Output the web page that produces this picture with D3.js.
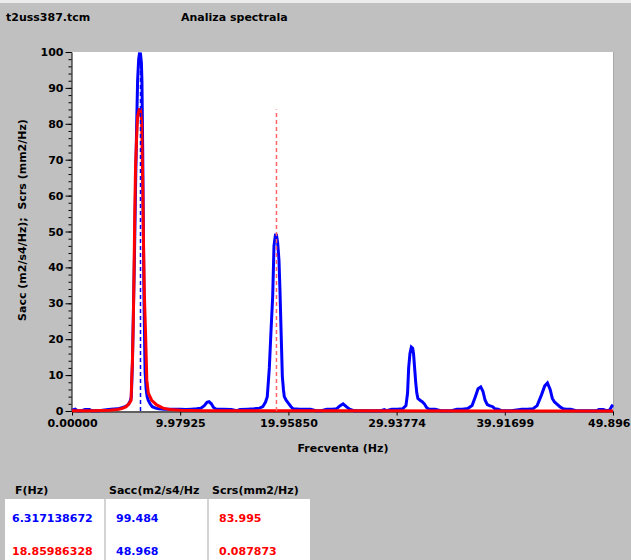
<!DOCTYPE html>
<html><head><meta charset="utf-8">
<script src="https://cdn.jsdelivr.net/npm/d3@7"></script>
<style>
html,body{margin:0;padding:0;background:#c0c0c0;}
svg{display:block;font-family:"DejaVu Sans",sans-serif;font-weight:bold;font-size:11px;}
</style></head>
<body>
<svg id="chart" width="631" height="560"></svg>
<script>
// ---- data ----
const fileName = "t2uss387.tcm";
const chartTitle = "Analiza spectrala";
const xTitle = "Frecventa (Hz)";
const yTitle = "Sacc (m2/s4/Hz);  Scrs (mm2/Hz)";
const xMax = 49.89624;
const xTickValues = [0, 9.97925, 19.9585, 29.93774, 39.91699, 49.89624];
const xTickLabels = ["0.00000", "9.97925", "19.95850", "29.93774", "39.91699", "49.896"];
const yMajorTicks = [0,10,20,30,40,50,60,70,80,90,100];

const freqAcc = [0.0,0.3,0.5,0.9,1.2,1.6,1.8,2.5,3.0,3.6,4.2,4.6,4.9,5.2,5.4,5.47,5.57,5.66,5.76,5.86,5.96,6.05,6.15,6.22,6.317,6.40,6.45,6.52,6.58,6.64,6.74,6.84,6.93,7.03,7.2,7.4,7.7,8.0,8.5,9.0,9.5,10.0,10.5,11.0,11.5,11.9,12.2,12.45,12.64,12.85,13.05,13.3,14.0,14.7,15.2,15.5,16.2,16.8,17.3,17.6,17.85,18.01,18.2,18.35,18.51,18.63,18.76,18.86,18.97,19.09,19.18,19.28,19.40,19.5,19.58,19.75,19.95,20.2,20.4,21.0,22.0,22.5,23.0,23.5,24.0,24.4,24.7,25.0,25.3,25.6,26.0,27.0,28.0,28.5,28.8,29.0,29.5,30.0,30.5,30.8,30.95,31.05,31.17,31.3,31.42,31.5,31.6,31.7,31.8,31.9,32.1,32.3,32.5,32.7,32.9,33.5,34.0,35.0,35.5,36.0,36.5,36.9,37.2,37.45,37.7,37.9,38.1,38.3,38.5,38.8,39.0,39.3,39.6,40.5,41.5,42.0,42.5,42.9,43.3,43.6,43.85,44.1,44.3,44.5,44.7,45.0,45.3,45.6,46.0,46.5,47.5,48.4,48.6,49.0,49.3,49.6,49.8,49.89624];
const sacc    = [0.2,0.5,0.1,0.1,0.4,0.4,0.1,0.1,0.3,0.5,0.6,0.9,1.2,1.8,3.0,4.0,13,27,43,62,79,92,98,99.5,99.484,97,92,73,51,31,11,6,4,3,2,1.2,0.8,0.6,0.5,0.5,0.5,0.5,0.4,0.5,0.6,0.8,1.5,2.4,2.6,2.0,1.0,0.5,0.5,0.4,0.1,0.4,0.5,0.6,0.8,1.2,2.5,4,12,22,32,46,49,48.968,46.8,42,33.7,22.6,9.6,6,4,3,2.2,1.2,0.6,0.5,0.5,0.1,0.1,0.5,0.5,0.6,1.4,2.0,1.2,0.5,0.1,0.1,0.1,0.1,0.4,0.1,0.5,0.5,0.6,1.5,5,12,16,17.8,17.5,16,12,8,5,3.5,3.0,2.6,2.0,1.0,0.5,0.5,0.1,0.1,0.5,0.5,0.7,1.5,4,6.2,6.7,5.5,3,1.8,1.5,1.2,0.6,0.5,0.1,0.1,0.5,0.5,0.6,1.5,4.5,7,7.8,6,3.5,2.5,2.0,1.2,0.6,0.5,0.5,0.1,0.1,0.1,0.4,0.4,0.1,0.3,1.4,1.7];

const freqCrs = [0.0,2.0,3.5,4.2,4.6,5.0,5.3,5.45,5.52,5.57,5.66,5.72,5.78,5.86,5.96,6.05,6.2,6.317,6.43,6.52,6.58,6.67,6.80,6.9,7.04,7.35,7.81,8.4,9.0,10.0,12.0,18.86,25.0,49.89624];
const scrs    = [0.1,0.1,0.2,0.4,0.7,1.2,2.2,3.0,10,13.4,26,38.4,53,68,76,82,84,83.995,80,64,49.6,33,20,8.6,5,3,1.7,0.8,0.4,0.2,0.1,0.087873,0.05,0.02];

const markFreq = [6.317138672, 18.85986328];
const markSacc = [99.484, 48.968];
const markScrs = [83.995, 0.087873];
const markColors = ["#0000ff", "#ff0000"];
const markLineColors = ["#0000ff", "#ff6464"];
const tableHeaders = ["F(Hz)", "Sacc(m2/s4/Hz", "Scrs(mm2/Hz)"];

// ---- drawing ----
const svg = d3.select("#chart");
const L = 72, R = 613, T = 52, B = 411;
const x = d3.scaleLinear().domain([0, xMax]).range([L, R]);
const y = d3.scaleLinear().domain([0, 100]).range([B, T]);

svg.append("rect").attr("width",631).attr("height",560).attr("fill","#c0c0c0");
svg.append("rect").attr("width",631).attr("height",3).attr("fill","#ececec");

svg.append("text").attr("x",6).attr("y",21).text(fileName);
svg.append("text").attr("x",181).attr("y",21).text(chartTitle);

svg.append("rect").attr("x",L).attr("y",T).attr("width",R-L).attr("height",B-T).attr("fill","#fff");
svg.append("line").attr("x1",R+0.5).attr("x2",R+0.5).attr("y1",T).attr("y2",B).attr("stroke","#a8a8a8");

// axes
const yMinor = d3.range(0, 101, 2);
svg.append("g").attr("transform",`translate(${L-0.5},0)`)
  .call(d3.axisLeft(y).tickValues(yMinor).tickSize(3).tickFormat(""))
  .call(g=>g.select(".domain").remove())
  .call(g=>g.selectAll("line").attr("stroke","#000"));
svg.append("g").attr("transform",`translate(${L-0.5},0)`)
  .call(d3.axisLeft(y).tickValues(yMajorTicks).tickSize(6).tickSizeOuter(0).tickPadding(2).tickFormat(d3.format("d")))
  .call(g=>g.selectAll("text").attr("font-family","DejaVu Sans").attr("font-weight","bold").attr("font-size","11px").attr("fill","#000"))
  .call(g=>g.selectAll("line,path").attr("stroke","#000"));

svg.append("g").attr("transform",`translate(0,${B+0.5})`)
  .call(d3.axisBottom(x).tickValues(xTickValues).tickSize(4).tickSizeOuter(0).tickPadding(4).tickFormat((d,i)=>xTickLabels[i]))
  .call(g=>g.selectAll("text").attr("font-family","DejaVu Sans").attr("font-weight","bold").attr("font-size","11px").attr("fill","#000"))
  .call(g=>g.selectAll(".tick:last-of-type text").attr("text-anchor","end").attr("x",17))
  .call(g=>g.selectAll("line,path").attr("stroke","#000"));

svg.append("text").attr("x",343).attr("y",452).attr("text-anchor","middle").text(xTitle);
svg.append("text").attr("transform","translate(26,220) rotate(-90)").attr("text-anchor","middle")
  .style("white-space","pre").text(yTitle);

// series
const line = d3.line().x(d=>x(d[0])).y(d=>y(d[1]));
svg.append("path").datum(freqAcc.map((f,i)=>[f,sacc[i]]))
  .attr("d",line).attr("fill","none").attr("stroke","#0000ff").attr("stroke-width",3).attr("stroke-linejoin","miter");
svg.append("path").datum(freqCrs.map((f,i)=>[f,scrs[i]]))
  .attr("d",line).attr("fill","none").attr("stroke","#ff0000").attr("stroke-width",3).attr("stroke-linejoin","miter");

// marker lines
const markTop = [markSacc[0], markScrs[0]];
svg.selectAll("line.mark").data(markFreq).enter().append("line").attr("class","mark")
  .attr("x1",d=>x(d)).attr("x2",d=>x(d))
  .attr("y1",y(0)).attr("y2",(d,i)=>y(markTop[i]))
  .attr("stroke",(d,i)=>markLineColors[i]).attr("stroke-width",1.5).attr("stroke-dasharray","4,3");

// table
svg.append("rect").attr("x",5).attr("y",499).attr("width",305).attr("height",61).attr("fill","#fff");
[104,207].forEach(sx=>svg.append("rect").attr("x",sx).attr("y",499).attr("width",2).attr("height",61).attr("fill","#d4d4d4"));
const colX = [15,109,212];
tableHeaders.forEach((h,i)=>svg.append("text").attr("x",colX[i]).attr("y",494).text(h));
const rowY = [522,555];
markFreq.forEach((f,i)=>{
  svg.append("text").attr("x",12).attr("y",rowY[i]).attr("fill",markColors[i]).text(f.toPrecision(10));
  svg.append("text").attr("x",116).attr("y",rowY[i]).attr("fill","#0000ff").text(String(markSacc[i]));
  svg.append("text").attr("x",219).attr("y",rowY[i]).attr("fill","#ff0000").text(String(markScrs[i]));
});
</script>
</body></html>
